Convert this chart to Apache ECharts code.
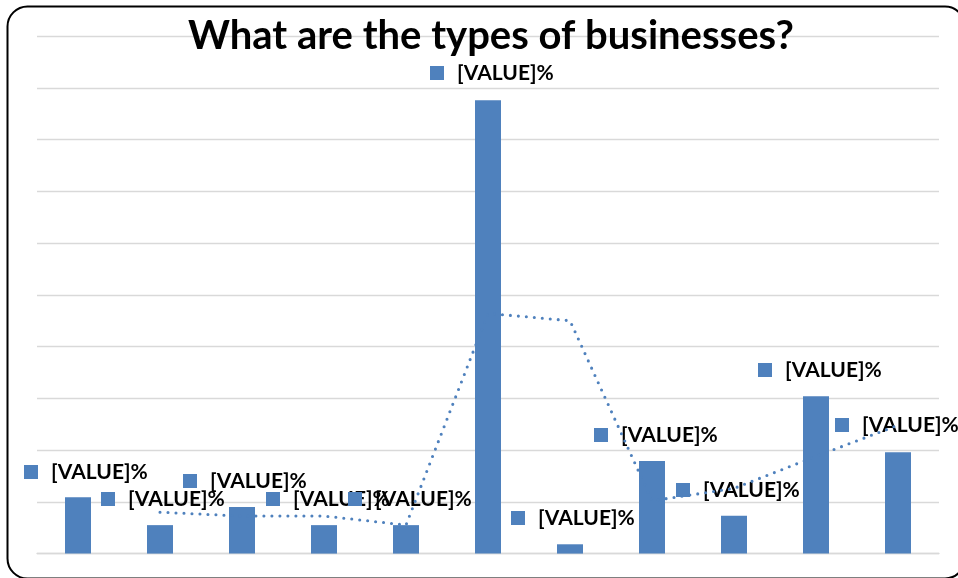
<!DOCTYPE html>
<html>
<head>
<meta charset="utf-8">
<script src="https://cdn.jsdelivr.net/npm/echarts@6/dist/echarts.min.js"></script>
<style>html,body{margin:0;padding:0;background:#fff}#c{width:958px;height:578px}</style>
</head>
<body>
<div id="c"></div>
<script>
var titleText = 'What are the types of businesses?';
var categories = ['Type 1','Type 2','Type 3','Type 4','Type 5','Type 6','Type 7','Type 8','Type 9','Type 10','Type 11'];
var barValues = [5.45, 2.75, 4.5, 2.75, 2.75, 43.8, 0.9, 8.95, 3.65, 15.2, 9.8];
var trendValues = ['-', 4.0, 3.63, 3.63, 2.76, 23.2, 22.5, 5.1, 6.3, 9.4, 12.4];
var labelText = '[VALUE]%';
// label anchor positions (left of square, vertical middle), px
var labelPos = [[24,472],[101,499],[183,481],[266,499],[348,499],[430,73],[511,518],[594,435],[676,490],[758,370],[835,425]];

var FONT = 'Lato, "Open Sans", sans-serif';
var chart = echarts.init(document.getElementById('c'), null, {renderer:'canvas'});
chart.setOption({
  animation: false,
  title: {
    text: titleText, left: 183, top: 11,
    textStyle: {fontFamily: FONT, fontWeight: 'bold', fontSize: 40, color: '#000'}
  },
  grid: {left: 37, right: 19, top: 36, bottom: 24.4, containLabel: false},
  xAxis: {
    type: 'category', data: categories,
    axisLine: {show: true, lineStyle: {color: '#d9d9d9', width: 1.3}},
    axisTick: {show: false}, axisLabel: {show: false}
  },
  yAxis: {
    type: 'value', min: 0, max: 50, interval: 5,
    axisLine: {show: false}, axisTick: {show: false}, axisLabel: {show: false},
    splitLine: {lineStyle: {color: '#d9d9d9', width: 1.3}}
  },
  graphic: [{
    type: 'rect', silent: true, z: 100,
    shape: {x: 7.5, y: 6.5, width: 957.5, height: 572, r: 20},
    style: {fill: 'none', stroke: '#000', lineWidth: 2}
  }],
  series: [{
    type: 'bar', data: barValues, barWidth: 26,
    itemStyle: {color: '#4F81BD'},
    label: {
      show: true, position: 'top',
      formatter: '{s|}{g|}{t|' + labelText + '}',
      rich: {
        s: {width: 14, height: 14, backgroundColor: '#4F81BD', verticalAlign: 'middle'},
        g: {width: 13, height: 14},
        t: {fontFamily: FONT, fontWeight: 'bold', fontSize: 21, color: '#000', lineHeight: 24, verticalAlign: 'middle'}
      }
    },
    labelLayout: function (p) {
      var pos = labelPos[p.dataIndex];
      return {x: pos[0], y: pos[1], align: 'left', verticalAlign: 'middle'};
    },
    z: 2
  }, {
    type: 'line', data: trendValues, showSymbol: false, symbol: 'none',
    lineStyle: {color: '#4F81BD', width: 3.1, type: [0, 8], cap: 'round'},
    z: 3
  }]
});
</script>
</body>
</html>
